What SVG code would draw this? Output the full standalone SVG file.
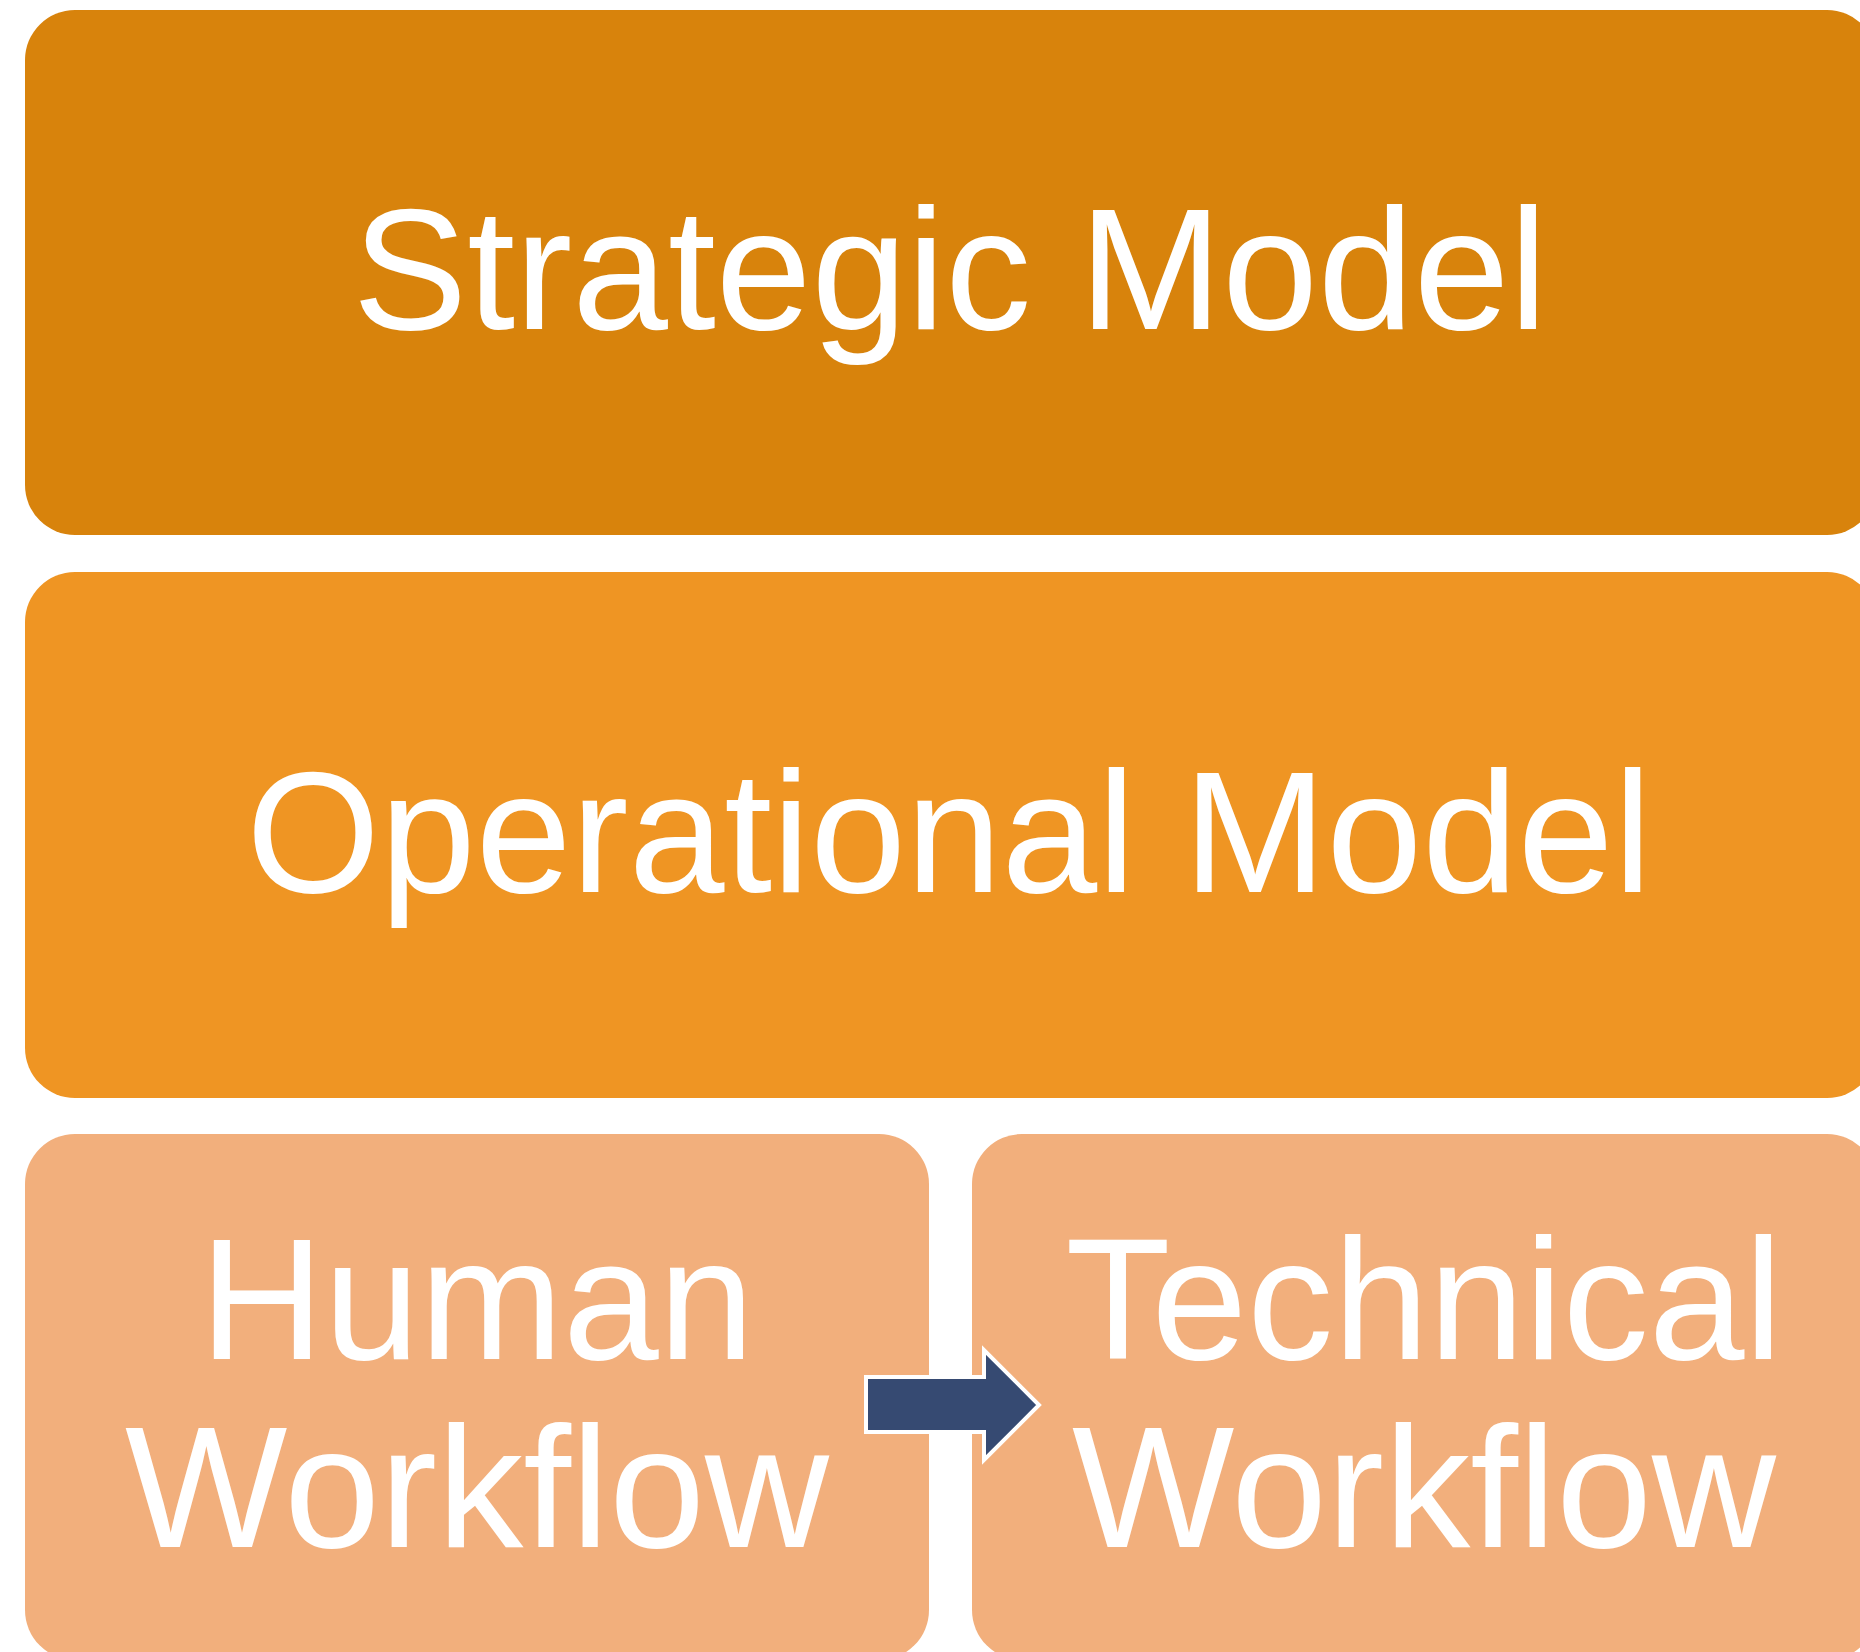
<svg xmlns="http://www.w3.org/2000/svg" width="1860" height="1652" viewBox="0 0 1860 1652">
<style>
.lbl{font-family:"Liberation Sans",Arial,sans-serif;font-size:172px;fill:#ffffff;text-anchor:middle}
</style>
<rect width="1860" height="1652" fill="#ffffff"/>
<g id="strategic">
<rect x="25" y="10" width="1852" height="525" rx="50" fill="#D8830C"/>
<text class="lbl" x="950" y="329">Strategic Model</text>
</g>
<g id="operational">
<rect x="25" y="572" width="1852" height="526" rx="50" fill="#EF9523"/>
<text class="lbl" x="949" y="892">Operational Model</text>
</g>
<g id="human">
<rect x="25" y="1134" width="904" height="526" rx="50" fill="#F2AF7C"/>
<text class="lbl" x="477" y="1359">Human</text>
<text class="lbl" x="477" y="1547">Workflow</text>
</g>
<g id="technical">
<rect x="972" y="1134" width="905" height="526" rx="50" fill="#F2AF7C"/>
<text class="lbl" x="1424" y="1359">Technical</text>
<text class="lbl" x="1424" y="1547">Workflow</text>
</g>
<g id="connectors">
<path d="M866,1377 L984,1377 L984,1350 L1039,1405 L984,1460 L984,1432 L866,1432 Z" fill="#364A72" stroke="#ffffff" stroke-width="4"/>
</g>
</svg>
